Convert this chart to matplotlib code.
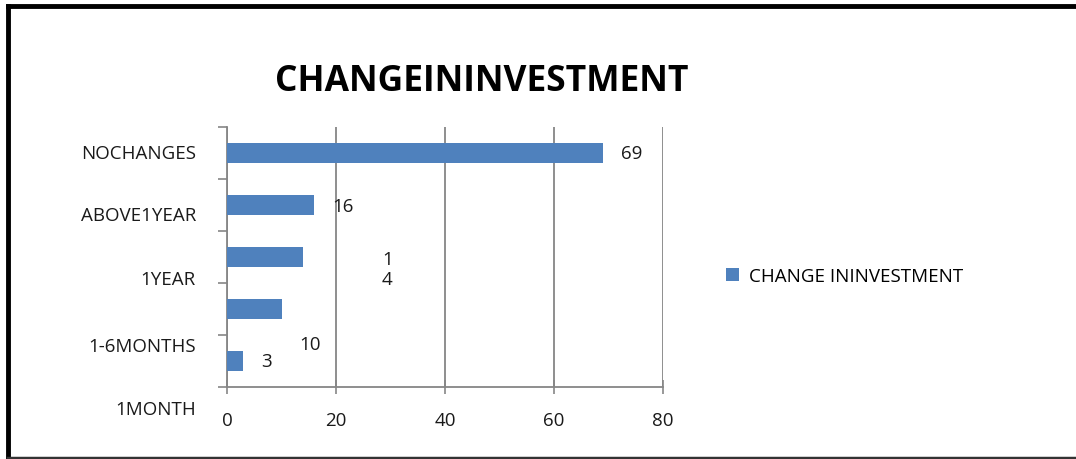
import matplotlib
matplotlib.use("Agg")
import matplotlib.pyplot as plt
from matplotlib.lines import Line2D
from matplotlib.transforms import blended_transform_factory

# Survey responses: change in investment period
categories = ["NOCHANGES", "ABOVE1YEAR", "1YEAR", "1-6MONTHS", "1MONTH"]
values = [69, 16, 14, 10, 3]
series_name = "CHANGE ININVESTMENT"
title = "CHANGEININVESTMENT"
x_ticks = [0, 20, 40, 60, 80]

bar_color = "#4F81BD"
grid_color = "#868686"
text_color = "#1a1a1a"
font = "Open Sans"
fs = 13.5

fig = plt.figure(figsize=(10.76, 4.6), dpi=100)
fig.patch.set_facecolor("white")

ax = fig.add_axes([227 / 1076, 1 - 388 / 460, 436 / 1076, 260 / 460])
ypos = list(range(len(values)))
ax.barh(ypos, values, height=0.38, color=bar_color, label=series_name, zorder=3)

ax.set_xticks(x_ticks)
ax.set_xticklabels([str(t) for t in x_ticks], fontsize=fs, family=font, color=text_color)
ax.tick_params(axis="x", direction="inout", length=10, width=1.2, color=grid_color, pad=12)
ax.xaxis.grid(True, color=grid_color, linewidth=1.3, zorder=0)

# boundary ticks between categories
ax.set_yticks([i - 0.5 for i in range(len(values) + 1)])
ax.set_yticklabels([])
ax.tick_params(axis="y", length=6.5, width=1.2, color=grid_color)
ax.set_xlim(0, 80)
ax.set_ylim(len(values) - 0.5, -0.5)

# category labels sit on their own spacing, separate from the boundary ticks
label_y = [0.0, 1.19, 2.42, 3.71, 4.92]
trans = blended_transform_factory(ax.transAxes, ax.transData)
for name, y in zip(categories, label_y):
    ax.text(-31 / 436, y, name, transform=trans, ha="right", va="center",
            fontsize=fs, family=font, color=text_color, clip_on=False)

for side in ("top", "right"):
    ax.spines[side].set_visible(False)
for side in ("left", "bottom"):
    ax.spines[side].set_color(grid_color)
    ax.spines[side].set_linewidth(1.3)

# value labels
label_dx = [5.3, 5.3, 15.4, 5.2, 4.2]
label_dy = [0.0, 0.02, 0.23, 0.67, 0.0]
for i, v in enumerate(values):
    txt = str(v) if v != 14 else "\n".join(str(v))
    ax.text(v + label_dx[i], i + label_dy[i], txt, ha="center", va="center",
            fontsize=fs, family=font, color=text_color, linespacing=1.15, zorder=4)

fig.text(482 / 1076, 1 - 82 / 460, title, ha="center", va="center",
         fontsize=25.5, fontweight="bold", family=font, color="black")

fig.legend(loc="center left", bbox_to_anchor=(709 / 1076, 1 - 277 / 460),
           frameon=False, prop={"family": font, "size": 13.5},
           handlelength=0.7, handleheight=0.7, handletextpad=0.55)

# outer frame
fig.add_artist(Line2D([8 / 1076, 8 / 1076], [0, 1 - 7 / 460], transform=fig.transFigure,
                      color="black", linewidth=3.5))
fig.add_artist(Line2D([8 / 1076, 1], [1 - 7 / 460, 1 - 7 / 460], transform=fig.transFigure,
                      color="black", linewidth=3.5))
fig.add_artist(Line2D([8 / 1076, 1], [1.5 / 460, 1.5 / 460], transform=fig.transFigure,
                      color="#333333", linewidth=2.5))

fig.savefig("out.png", dpi=100, facecolor="white")
